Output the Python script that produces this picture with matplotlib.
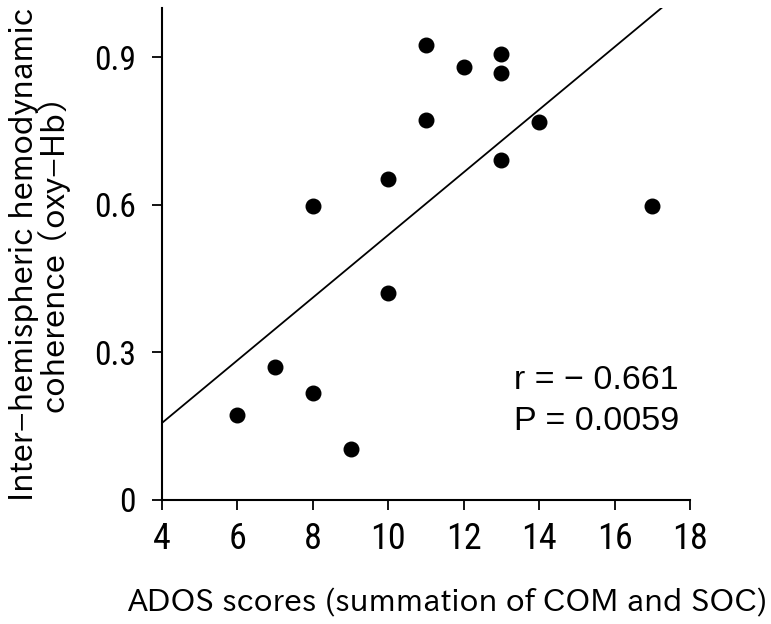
import numpy as np
import matplotlib
matplotlib.use("Agg")
import matplotlib.pyplot as plt

ados = [6, 7, 8, 8, 9, 10, 10, 11, 11, 12, 13, 13, 13, 14, 17]
coherence = [0.172, 0.271, 0.218, 0.597, 0.103, 0.653, 0.421, 0.924, 0.773,
             0.880, 0.906, 0.868, 0.692, 0.769, 0.597]
xticks = [4, 6, 8, 10, 12, 14, 16, 18]
yticks = [0, 0.3, 0.6, 0.9]
ytick_labels = ["0", "0.3", "0.6", "0.9"]

plt.rcParams['font.family'] = ['Roboto Condensed', 'DejaVu Sans']
label_fam = ['IPAPGothic', 'DejaVu Sans']

fig = plt.figure(figsize=(7.71, 6.24), dpi=100)
ax = fig.add_axes([0.210, 0.199, 0.685, 0.788])

ax.scatter(ados, coherence, s=110, color='black', zorder=3, clip_on=False)
slope, intercept = np.polyfit(ados, coherence, 1)
xl = np.array([4, 18])
ax.plot(xl, slope * xl + intercept, color='black', lw=1.3)

ax.set_xlim(4, 18)
ax.set_ylim(0, 1.0)
ax.set_xticks(xticks)
ax.set_yticks(yticks)
ax.set_yticklabels(ytick_labels)
ax.tick_params(axis='x', direction='out', length=7, width=1.3, labelsize=26, pad=8)
ax.tick_params(axis='y', direction='out', length=7, width=1.3, labelsize=24, pad=12)
for s in ['top', 'right']:
    ax.spines[s].set_visible(False)
for s in ['left', 'bottom']:
    ax.spines[s].set_linewidth(1.5)

ax.set_xlabel("ADOS scores (summation of COM and SOC)", fontsize=22.5, family=label_fam)
ax.xaxis.set_label_coords(0.54, -0.18)
ax.set_ylabel("Inter\u2212hemispheric hemodynamic\ncoherence \uff08oxy\u2212Hb\uff09", fontsize=23,
              labelpad=16, linespacing=1.0, family=label_fam)

stat_fam = ['Liberation Sans', 'DejaVu Sans']
ax.text(0.667, 0.2245, "r = \u2212 0.661", transform=ax.transAxes,
        fontsize=24.5, va='baseline', ha='left', family=stat_fam)
ax.text(0.667, 0.1416, "P = 0.0059", transform=ax.transAxes,
        fontsize=24.5, va='baseline', ha='left', family=stat_fam)

fig.savefig("out.png", dpi=100)
